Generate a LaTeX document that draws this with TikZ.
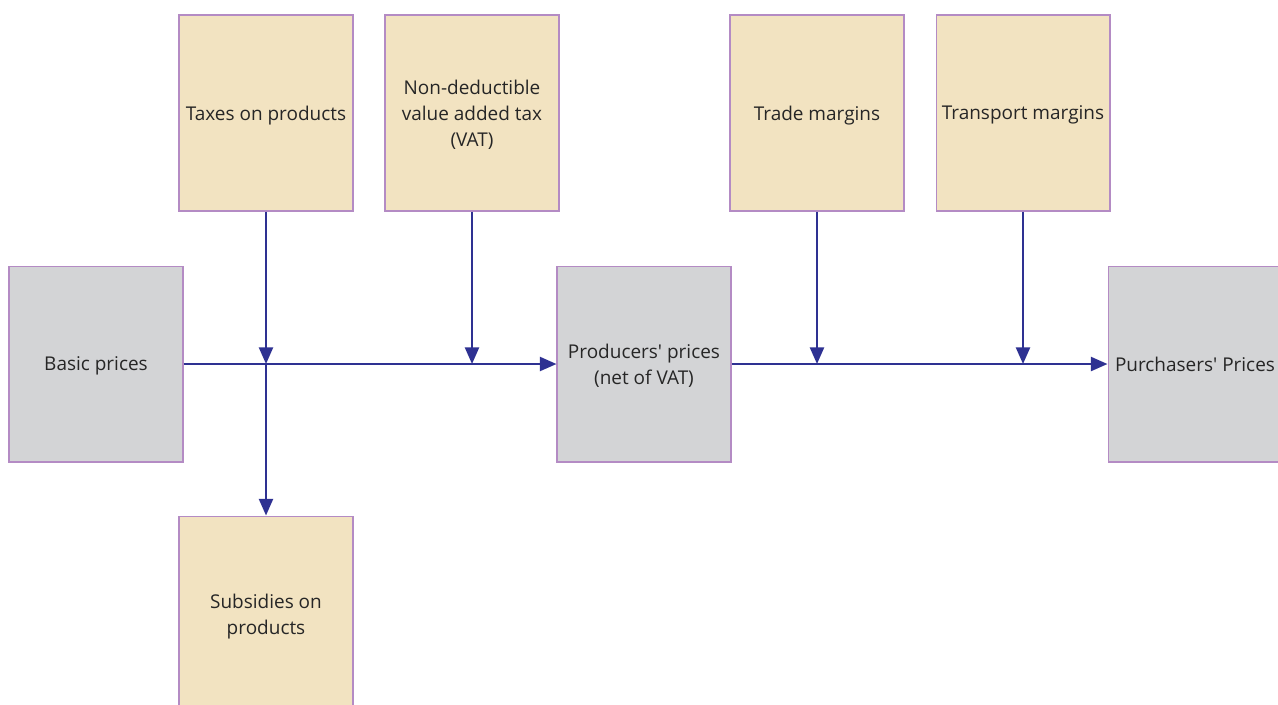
\documentclass[tikz,border=0pt]{standalone}
\usepackage{fontspec}
\setmainfont{Open Sans}
\usetikzlibrary{arrows.meta,calc}

\definecolor{boxline}{HTML}{B48BC4}
\definecolor{taxfill}{HTML}{F2E3C1}
\definecolor{pricefill}{HTML}{D3D4D6}
\definecolor{flowblue}{HTML}{2E3192}

\tikzset{
  taxbox/.style={draw=boxline, line width=0.6pt, fill=taxfill, minimum width=3.48cm, minimum height=3.92cm, align=center, inner sep=2pt, text depth=0pt, font=\fontsize{10.8}{14.7}\selectfont, text=black!85},
  pricebox/.style={taxbox, fill=pricefill},
  flow/.style={draw=flowblue, line width=1.3pt, -{Triangle[length=9.5pt,width=8pt]}}
}

\begin{document}
\begin{tikzpicture}[x=0.02cm, y=-0.02cm]
  \useasboundingbox (0,0) rectangle (1278,704);
  % adjustments to the basic price
  \node[taxbox] (taxes) at (266,113) {Taxes on products};
  \node[taxbox] (vat) at (472,113) {Non-deductible\\value added tax\\(VAT)};
  \node[taxbox] (subsidies) at (266,614) {Subsidies on\\products};
  % margins
  \node[taxbox] (trade) at (817,113) {Trade margins};
  \node[taxbox] (transport) at (1023,113) {Transport margins};
  % price levels
  \node[pricebox] (basic) at (96,364) {Basic prices};
  \node[pricebox] (producers) at (644,364) {Producers\textquotesingle{} prices\\(net of VAT)};
  \node[pricebox] (purchasers) at (1195,364) {Purchasers\textquotesingle{} Prices};

  \coordinate (jtax) at (taxes.south |- basic.east);
  \coordinate (jvat) at (vat.south |- basic.east);
  \coordinate (jtrade) at (trade.south |- producers.east);
  \coordinate (jtransport) at (transport.south |- producers.east);

  \draw[flow] (basic.east) -- (producers.west);
  \draw[flow] (producers.east) -- (purchasers.west);
  \draw[flow] (taxes.south) -- (jtax);
  \draw[flow] (jtax) -- (subsidies.north);
  \draw[flow] (vat.south) -- (jvat);
  \draw[flow] (trade.south) -- (jtrade);
  \draw[flow] (transport.south) -- (jtransport);
\end{tikzpicture}
\end{document}
